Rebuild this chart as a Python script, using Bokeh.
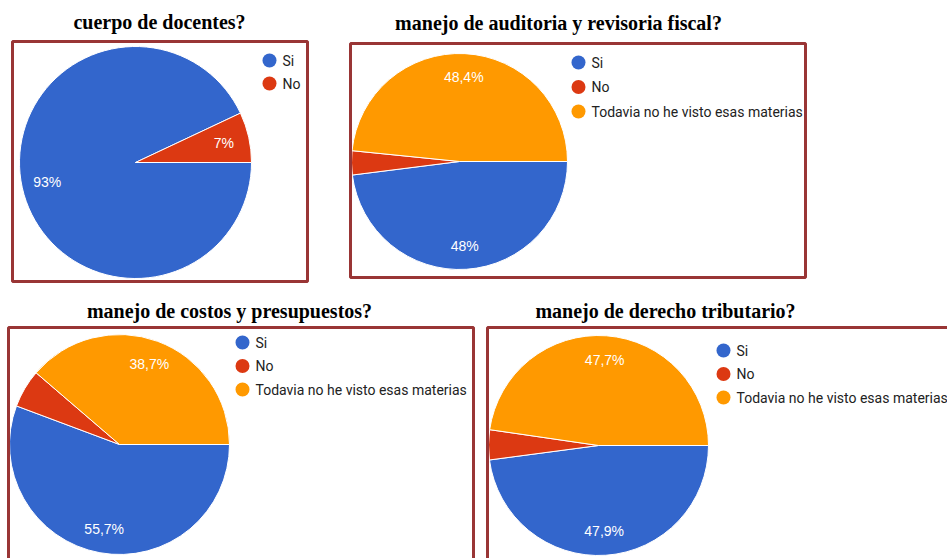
import math
from bokeh.plotting import figure
from bokeh.models import Range1d
from bokeh.core.properties import value
from bokeh.embed import file_html
from bokeh.resources import INLINE

# ---------------- data ----------------
titles = [
    "cuerpo de docentes?",
    "manejo de auditoria y revisoria fiscal?",
    "manejo de costos y presupuestos?",
    "manejo de derecho tributario?",
]
categories_1 = ["Si", "No"]
values_1 = [93.0, 7.0]
labels_1 = ["93%", "7%"]

categories_2 = ["Si", "No", "Todavia no he visto esas materias"]
values_2 = [48.0, 3.6, 48.4]
labels_2 = ["48%", "", "48,4%"]

categories_3 = ["Si", "No", "Todavia no he visto esas materias"]
values_3 = [55.7, 5.6, 38.7]
labels_3 = ["55,7%", "", "38,7%"]

categories_4 = ["Si", "No", "Todavia no he visto esas materias"]
values_4 = [47.9, 4.4, 47.7]
labels_4 = ["47,9%", "", "47,7%"]

colors = ["#3366cc", "#dc3912", "#ff9900"]

# ---------------- layout (screen pixels, y from top) ----------------
W, H = 947, 558
BORDER = "#993535"

panels = [
    dict(cats=categories_1, vals=values_1, labs=labels_1, title=titles[0],
         title_xy=(159, 21), center=(135, 162), r=116,
         box=(12, 307, 41, 281), leg_x=269, leg_y0=60, leg_dy=23),
    dict(cats=categories_2, vals=values_2, labs=labels_2, title=titles[1],
         title_xy=(558, 22), center=(459, 161), r=108,
         box=(350, 805, 43, 277), leg_x=578, leg_y0=62, leg_dy=24.5),
    dict(cats=categories_3, vals=values_3, labs=labels_3, title=titles[2],
         title_xy=(229, 310), center=(119, 444), r=110,
         box=(8, 473, 327, 575), leg_x=242, leg_y0=342, leg_dy=23.5),
    dict(cats=categories_4, vals=values_4, labs=labels_4, title=titles[3],
         title_xy=(665, 310), center=(598, 445), r=110,
         box=(487, 965, 327, 575), leg_x=723, leg_y0=350, leg_dy=23.5),
]

p = figure(width=W, height=H, output_backend="svg", toolbar_location=None,
           x_range=Range1d(0, W), y_range=Range1d(0, H), min_border=0)
p.axis.visible = False
p.grid.visible = False
p.outline_line_color = None
p.background_fill_color = "white"
p.border_fill_color = "white"


def fy(y):
    return H - y


for pn in panels:
    cx, cy = pn["center"]
    r = pn["r"]
    vals = pn["vals"]
    total = sum(vals)
    starts, ends, lx, ly = [], [], [], []
    cum = 0.0
    for v in vals:
        a0 = cum / total
        a1 = (cum + v) / total
        # clockwise from 3 o'clock
        starts.append(-a1 * 2 * math.pi)
        ends.append(-a0 * 2 * math.pi)
        mid = -(a0 + a1) / 2 * 2 * math.pi
        lx.append(cx + 0.78 * r * math.cos(mid))
        ly.append(fy(cy) + 0.78 * r * math.sin(mid))
        cum += v
    n = len(vals)
    p.wedge(x=[cx] * n, y=[fy(cy)] * n, radius=r, start_angle=starts,
            end_angle=ends, direction="anticlock",
            fill_color=colors[:n], line_color="white", line_width=1)
    p.text(x=lx, y=ly, text=pn["labs"], text_color="white",
           text_font=value("Liberation Sans"), text_font_size="14px",
           text_align="center", text_baseline="middle")

    # legend
    ys = [fy(pn["leg_y0"] + i * pn["leg_dy"]) for i in range(n)]
    p.scatter(x=[pn["leg_x"]] * n, y=ys, size=14, marker="circle",
              fill_color=colors[:n], line_color=None)
    p.text(x=[pn["leg_x"] + 13] * n, y=ys, text=pn["cats"], text_color="#222222",
           text_font=value("Roboto"), text_font_size="14px",
           text_align="left", text_baseline="middle")

    # border
    x0, x1, y0, y1 = pn["box"]
    p.quad(left=x0, right=x1, top=fy(y0), bottom=fy(y1), fill_color=None,
           line_color=BORDER, line_width=3)

    # title
    tx, ty = pn["title_xy"]
    p.text(x=[tx], y=[fy(ty)], text=[pn["title"]], text_color="black",
           text_font=value("Liberation Serif"), text_font_style="bold",
           text_font_size="20px", text_align="center", text_baseline="middle")

open("out.html", "w").write(file_html(p, INLINE))
